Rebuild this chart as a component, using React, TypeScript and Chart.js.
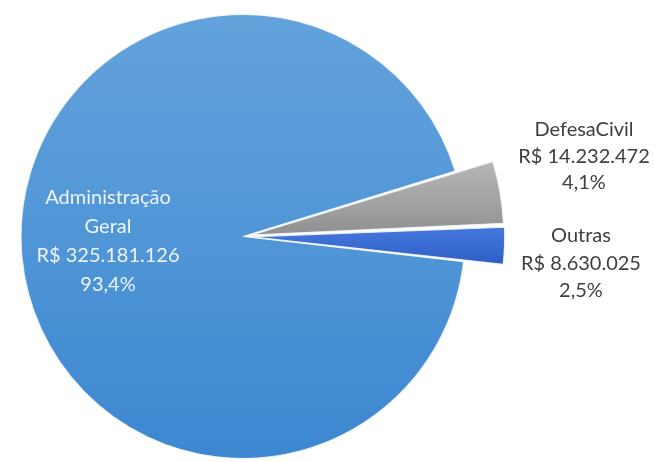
import React, { useEffect, useRef } from "react";
import { Chart, registerables } from "chart.js";

Chart.register(...registerables);

// ---- data ----
const categories = ["Administração Geral", "DefesaCivil", "Outras"];
const nameLines = [["Administração", "Geral"], ["DefesaCivil"], ["Outras"]];
const values = [325181126, 14232472, 8630025];

// ---- style ----
const labelStyle = [
  { x: 108, y: 198, lh: 29, color: "#eef4fb", size: 20 },
  { x: 584, y: 130, lh: 26.5, color: "#404040", size: 20 },
  { x: 581, y: 236, lh: 27.5, color: "#404040", size: 20 },
];
const sliceRadius = [222, 246, 246];
const FONT = "Lato, 'Open Sans', sans-serif";

function fmtMoney(v: number): string {
  const s = String(Math.round(v));
  let out = "";
  for (let i = 0; i < s.length; i++) {
    const fromEnd = s.length - i;
    out += s[i];
    if (fromEnd > 1 && (fromEnd - 1) % 3 === 0) out += ".";
  }
  return "R$ " + out;
}

function fmtPct(v: number, total: number): string {
  return ((v / total) * 100).toFixed(1).replace(".", ",") + "%";
}

const radiusPlugin = {
  id: "sliceRadius",
  beforeDatasetsDraw(chart: any) {
    const meta = chart.getDatasetMeta(0);
    meta.data.forEach((arc: any, i: number) => {
      arc.outerRadius = sliceRadius[i];
    });
  },
};

const labelPlugin = {
  id: "sliceLabels",
  afterDatasetsDraw(chart: any) {
    const ctx = chart.ctx as CanvasRenderingContext2D;
    const ds = chart.data.datasets[0].data as number[];
    const total = ds.reduce((a, b) => a + b, 0);
    ctx.save();
    ctx.textAlign = "center";
    ctx.textBaseline = "middle";
    ds.forEach((v, i) => {
      const st = labelStyle[i];
      const lines = [...nameLines[i], fmtMoney(v), fmtPct(v, total)];
      ctx.fillStyle = st.color;
      ctx.font = `${st.size}px ${FONT}`;
      lines.forEach((ln, k) => {
        ctx.fillText(ln, st.x, st.y + k * st.lh);
      });
    });
    ctx.restore();
  },
};

function sliceFill(context: any) {
  const c = context.chart.ctx as CanvasRenderingContext2D;
  const i = context.dataIndex;
  if (i === 0) {
    const g = c.createLinearGradient(0, 15, 0, 458);
    g.addColorStop(0, "#63a2db");
    g.addColorStop(0.5, "#5096d7");
    g.addColorStop(1, "#3d87d1");
    return g;
  }
  if (i === 1) {
    const g = c.createLinearGradient(0, 165, 0, 230);
    g.addColorStop(0, "#b4b4b4");
    g.addColorStop(0.6, "#a3a3a3");
    g.addColorStop(1, "#939393");
    return g;
  }
  const g = c.createLinearGradient(0, 228, 0, 268);
  g.addColorStop(0, "#4477dc");
  g.addColorStop(1, "#2d5cc2");
  return g;
}

export default function App() {
  const ref = useRef<HTMLCanvasElement | null>(null);
  useEffect(() => {
    if (!ref.current) return;
    const chart = new Chart(ref.current, {
      type: "pie",
      data: {
        labels: categories,
        datasets: [
          {
            data: values,
            backgroundColor: sliceFill,
            borderColor: "rgba(245,248,252,0.85)",
            borderWidth: 1.2,
            offset: [0, 34, 34],
          },
        ],
      },
      options: {
        responsive: false,
        animation: false,
        rotation: 96.5,
        radius: 222,
        layout: { padding: { left: 0, right: 169, top: 11, bottom: 0 } },
        plugins: {
          legend: { display: false },
          tooltip: { enabled: false },
        },
      },
      plugins: [radiusPlugin, labelPlugin],
    });
    return () => chart.destroy();
  }, []);
  return (
    <div style={{ position: "absolute", left: 0, top: 0, width: 655, height: 462, background: "#fff" }}>
      <canvas ref={ref} width={655} height={462} style={{ display: "block" }} />
    </div>
  );
}
